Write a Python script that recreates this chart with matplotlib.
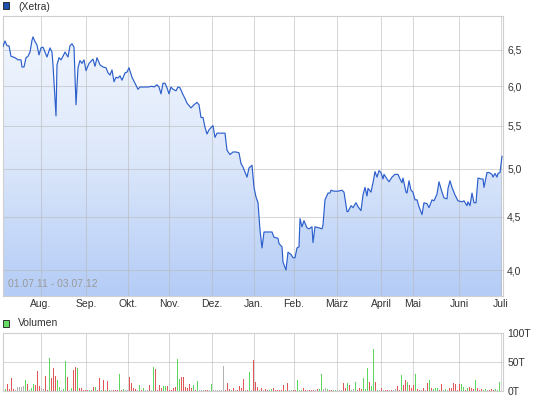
import numpy as np
import matplotlib
matplotlib.use("Agg")
import matplotlib.pyplot as plt
from matplotlib.ticker import FixedLocator, FuncFormatter, NullLocator
from matplotlib.colors import LinearSegmentedColormap
from matplotlib.patches import Rectangle

plt.rcParams['font.family'] = ['Liberation Sans', 'DejaVu Sans']

# ---- data (trading-day index, Xetra close) ----
days = [0, 1, 2, 3, 4, 6, 7.5, 9, 9.5, 10.5, 11.5, 12.5, 13.5, 14.5, 15, 16, 17, 18, 19, 20,
        21, 22, 23.5, 24.5, 25, 26.5, 27, 28, 29, 30, 31, 32.5, 33.5, 34.5, 35.5, 36.5, 37.5,
        38.5, 39.5, 40.5, 41.5, 43, 45, 46, 47, 48.5, 50, 51.5, 52.5, 53.5, 54.5, 55.5, 56.5,
        57.5, 58.5, 59.5, 61, 62, 63, 64.5, 66, 67.5, 68.5, 70, 72.5, 74.5, 75.5, 77, 78, 79,
        80, 81, 82, 83, 84, 85, 86.5, 87.5, 88.5, 90, 91, 92, 94, 95.5, 97, 98, 99, 100, 101,
        102, 103, 104.5, 105, 106, 107, 108.5, 111, 112, 113.5, 115, 116.5, 118, 119, 120, 122,
        123, 124.5, 125.5, 126.5, 127.5, 128.5, 129.5, 130.5, 132.5, 134.5, 135.5, 137.5, 138,
        139.5, 140, 141.5, 142.5, 144, 145, 146, 147, 148, 148.5, 149.5, 150.5, 152, 153, 154.5,
        155, 156, 158, 159.5, 160, 161, 162.5, 163.5, 164, 165.5, 167.5, 169.5, 170.5, 172,
        172.5, 174, 175, 176.5, 177.5, 179, 180, 181, 182, 182.5, 184, 185, 186, 187, 188, 189,
        190, 190.5, 192, 193, 194.5, 196, 197.5, 198.5, 199.5, 200, 201.5, 202, 203, 204, 205,
        206, 207, 208, 209.5, 210.5, 212, 213, 214.5, 215.5, 217, 218, 219.5, 220.5, 222, 222.5,
        223.5, 224.5, 226, 227.5, 229.5, 230.5, 232, 232.5, 233.5, 234.5, 235.5, 236.5, 237.5,
        239, 240, 240.5, 242, 243, 244.5, 245, 246, 247, 247.5, 248.5, 249.5]
prices = [6.55, 6.63, 6.56, 6.56, 6.41, 6.39, 6.36, 6.36, 6.26, 6.26, 6.39, 6.41, 6.47, 6.64,
          6.69, 6.62, 6.57, 6.43, 6.53, 6.54, 6.47, 6.40, 6.53, 6.47, 6.29, 5.62, 6.29, 6.39,
          6.36, 6.41, 6.47, 6.40, 6.56, 6.59, 6.54, 5.76, 6.25, 6.35, 6.31, 6.36, 6.21, 6.31,
          6.37, 6.27, 6.39, 6.29, 6.26, 6.25, 6.18, 6.15, 6.22, 6.06, 6.12, 6.11, 6.14, 6.08,
          6.18, 6.19, 6.25, 6.12, 6.04, 5.96, 5.99, 5.99, 5.99, 6.00, 5.99, 6.02, 5.99, 5.90,
          6.04, 6.04, 5.98, 5.90, 5.99, 5.96, 5.94, 5.99, 5.98, 5.89, 5.84, 5.78, 5.72, 5.76,
          5.79, 5.76, 5.60, 5.60, 5.48, 5.40, 5.45, 5.49, 5.50, 5.36, 5.41, 5.41, 5.41, 5.21,
          5.16, 5.19, 5.19, 5.18, 5.06, 5.02, 4.91, 5.01, 5.04, 4.80, 4.70, 4.64, 4.37, 4.20,
          4.35, 4.35, 4.35, 4.30, 4.29, 4.24, 4.21, 4.07, 4.00, 4.16, 4.14, 4.11, 4.11, 4.20,
          4.21, 4.48, 4.40, 4.46, 4.39, 4.38, 4.40, 4.25, 4.40, 4.39, 4.38, 4.42, 4.67, 4.74,
          4.74, 4.77, 4.76, 4.76, 4.77, 4.75, 4.55, 4.55, 4.61, 4.59, 4.64, 4.60, 4.56, 4.72,
          4.80, 4.71, 4.79, 4.75, 4.85, 4.97, 4.91, 4.98, 4.96, 4.89, 4.94, 4.89, 4.86, 4.91,
          4.94, 4.94, 4.89, 4.85, 4.90, 4.75, 4.74, 4.87, 4.77, 4.75, 4.67, 4.67, 4.60, 4.52,
          4.64, 4.63, 4.59, 4.67, 4.66, 4.73, 4.86, 4.75, 4.69, 4.68, 4.79, 4.87, 4.80, 4.72,
          4.66, 4.65, 4.66, 4.61, 4.65, 4.61, 4.74, 4.64, 4.64, 4.90, 4.89, 4.89, 4.80, 4.96,
          4.96, 4.94, 4.91, 4.95, 4.91, 4.95, 4.96, 5.14]

month_pos = [19, 41.5, 62.5, 83, 104.5, 125.5, 145.5, 167, 189, 205, 228, 249]
month_labels = ['Aug.', 'Sep.', 'Okt.', 'Nov.', 'Dez.', 'Jan.', 'Feb.', 'März',
                'April', 'Mai', 'Juni', 'Juli']
price_ticks = [4.0, 4.5, 5.0, 5.5, 6.0, 6.5]

# volume in thousands, direction g=up r=down n=unchanged
volume = [3.4, 3, 12, 3, 22, 3, 1.5, 7, 7, 7,
          9, 19, 12, 2, 5, 12, 10, 34, 9, 5,
          3, 26, 2, 57, 22, 39, 26, 19, 7, 2,
          3, 52, 25, 2, 6, 36, 42, 40, 6, 6,
          2, 2, 2, 2, 2, 7, 7, 2, 22, 2,
          19, 2, 17, 2, 1, 2, 2, 2, 29, 2,
          3, 1, 1, 25, 14, 6, 3, 1, 10, 2,
          5, 1, 1, 10, 1, 42, 38, 2, 10, 5,
          9, 9, 9, 2, 2, 5, 7, 55, 21, 24,
          24, 7, 6, 12, 5, 10, 2, 17, 1, 1,
          2, 2, 1, 1, 12, 1, 1, 1, 1, 1,
          43, 2, 14, 3, 2, 5, 1, 2, 9, 6,
          21, 2, 2, 32, 1, 53, 16, 7, 2, 5,
          2, 3, 2,
          2, 3, 5, 2, 2, 1, 2, 10, 1, 13,
          1, 1, 1, 2, 19, 2, 2, 5, 2, 1,
          2, 2, 2, 1, 3, 3, 29, 3, 5, 3,
          2, 2, 1, 2, 1, 1, 1, 13, 6, 13,
          10, 2, 3, 15, 2, 5, 3, 22, 3, 39,
          16, 9, 72, 16, 2, 1, 5, 1, 1, 1,
          1, 1, 2, 3, 9, 2, 28, 10, 19, 15,
          10, 6, 10, 29, 3, 2, 2, 6, 1, 14,
          19, 6, 3, 5, 6, 2, 12, 2, 3, 1,
          6, 6, 14, 12, 2, 12, 12, 7, 2, 5,
          7, 6, 3, 19, 6, 2, 3, 2, 3, 1,
          2, 3, 2, 3, 2, 16]
vol_dir = ("ggrrrrnnnn" "ngrgggrrrn" "nrrgrrrggn" "ggrngrrgrr" "rrrggrgrrg"
           "rgrgnrrrgr" "gnnrrrrngr" "gnnrngrrrr" "ggrrrrrggr" "rrrrrgrgnn"
           "nrrngnnnnn" "nrrrgrnrrr" "rnrgnrrrgr" "nr" "r"
           "ggrrrrrrgr" "nnrrgggrrn" "rrrnrggnng" "rrngnnnrrg" "rgngrrrggg"
           "rggrgnrnrr" "nrnnrrgrrg" "rrrgrrnrnr" "grgggrrngn" "rrrrrrggrg"
           "rrrgrrrggn" "rrrggg")
vol_ticks = [0, 50, 100]
vol_tick_labels = ['0T', '50T', '100T']
range_label = "01.07.11 - 03.07.12"

# ---- figure ----
W, H = 545, 401
fig = plt.figure(figsize=(W / 100, H / 100), dpi=100)


def frac(l, t, r, b):
    return [l / W, 1 - b / H, (r - l) / W, (b - t) / H]


grid_kw = dict(color='#b8b8b8', lw=0.75, alpha=0.55)
spine_col = '#cfcfcf'
txt_col = '#333333'
fs = 7.5

# main price panel
ax = fig.add_axes(frac(3, 16, 503, 296))
ax.set_xlim(0, 250)
ax.set_yscale('log')
ax.set_ylim(3.777, 7.006)
ax.set_autoscale_on(False)

cmap = LinearSegmentedColormap.from_list('bg', ['#b4ccf6', '#dde8fb', '#f4f8fe'])
grad = np.linspace(0, 1, 256).reshape(-1, 1)
im = ax.imshow(grad, cmap=cmap, extent=[0, 1, 0, 1], transform=ax.transAxes,
               aspect='auto', origin='lower', zorder=0.5, interpolation='bicubic')
poly = ax.fill_between(days, prices, 3.0, facecolor='none', edgecolor='none')
im.set_clip_path(poly.get_paths()[0], transform=ax.transData)
ax.plot(days, prices, color='#2c5fcc', lw=0.85, zorder=3, solid_joinstyle='round')

ax.yaxis.set_major_locator(FixedLocator(price_ticks))
ax.yaxis.set_minor_locator(NullLocator())
ax.yaxis.set_major_formatter(FuncFormatter(lambda v, p: f"{v:.1f}".replace('.', ',')))
ax.yaxis.tick_right()
ax.set_xticks(month_pos)
ax.set_xticklabels(month_labels)
ax.tick_params(axis='both', length=0, labelsize=fs, colors=txt_col)
ax.tick_params(axis='y', pad=3)
ax.tick_params(axis='x', pad=2.5)
ax.set_axisbelow('line')
ax.grid(True, **grid_kw)
for s in ax.spines.values():
    s.set_color(spine_col)
    s.set_linewidth(0.8)
ax.text(0.01, 0.025, range_label, transform=ax.transAxes, fontsize=fs,
        color='#9a9a9a', ha='left', va='bottom', zorder=4)

# volume panel
ax2 = fig.add_axes(frac(3, 333, 503, 391))
ax2.set_xlim(0, 250)
ax2.set_ylim(0, 100)
col_map = {'g': '#5cd65c', 'r': '#e05555', 'n': '#b0b0b0'}
ax2.bar(np.arange(len(volume)), volume, width=0.5,
        color=[col_map[c] for c in vol_dir], linewidth=0, antialiased=False,
        snap=True, zorder=2)
ax2.yaxis.tick_right()
ax2.set_yticks(vol_ticks)
ax2.set_yticklabels(vol_tick_labels)
ax2.set_xticks(month_pos)
ax2.set_xticklabels([])
ax2.tick_params(axis='both', length=0, labelsize=fs, colors=txt_col)
ax2.tick_params(axis='y', pad=3)
ax2.set_axisbelow(True)
ax2.grid(True, **grid_kw)
for s in ax2.spines.values():
    s.set_color(spine_col)
    s.set_linewidth(0.8)

# legends
fig.add_artist(Rectangle((3 / W, 1 - 8.5 / H), 6 / W, 6.5 / H, transform=fig.transFigure,
                         facecolor='#1e50b0', edgecolor='#1a1a1a', lw=0.6))
fig.text(18 / W, 1 - 6.5 / H, '(Xetra)', fontsize=fs, color=txt_col, va='center', ha='left')
fig.add_artist(Rectangle((3 / W, 1 - 326.5 / H), 6 / W, 6.5 / H, transform=fig.transFigure,
                         facecolor='#66dd66', edgecolor='#1a1a1a', lw=0.6))
fig.text(18 / W, 1 - 323.5 / H, 'Volumen', fontsize=fs, color=txt_col, va='center', ha='left')

fig.savefig('out.png', dpi=100)
